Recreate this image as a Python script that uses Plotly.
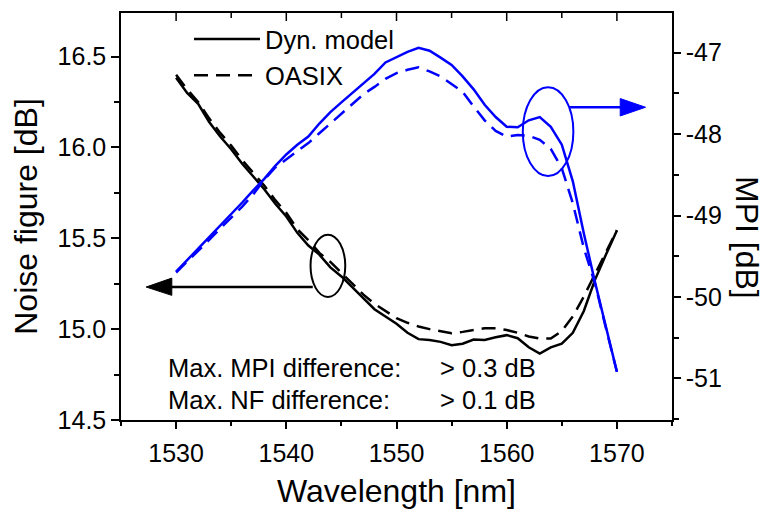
import plotly.graph_objects as go

# ---------------- data ----------------
wavelength = list(range(1530, 1571))

nf_dyn = [16.384, 16.30, 16.24, 16.14, 16.06, 15.99, 15.91, 15.84, 15.77, 15.69,
          15.62, 15.53, 15.46, 15.41, 15.34, 15.29, 15.23, 15.17, 15.11, 15.07,
          15.03, 14.98, 14.945, 14.94, 14.93, 14.912, 14.92, 14.943, 14.94, 14.955,
          14.967, 14.95, 14.90, 14.866, 14.90, 14.92, 14.98, 15.10, 15.27, 15.41,
          15.543]

nf_oasix = [16.40, 16.32, 16.25, 16.16, 16.08, 16.01, 15.93, 15.86, 15.79, 15.71,
            15.64, 15.55, 15.49, 15.42, 15.37, 15.31, 15.25, 15.19, 15.14, 15.10,
            15.06, 15.035, 15.015, 15.00, 14.99, 14.977, 14.985, 14.995, 15.005, 15.005,
            14.995, 14.98, 14.96, 14.948, 14.948, 14.99, 15.07, 15.18, 15.30, 15.42,
            15.545]

mpi_dyn = [-49.69, -49.55, -49.40, -49.26, -49.12, -48.99, -48.84, -48.69, -48.55, -48.39,
           -48.25, -48.13, -48.03, -47.87, -47.73, -47.61, -47.49, -47.37, -47.26, -47.12,
           -47.05, -46.99, -46.94, -46.975, -47.06, -47.15, -47.29, -47.45, -47.64, -47.79,
           -47.91, -47.915, -47.83, -47.79, -47.91, -48.13, -48.58, -49.22, -49.81, -50.37,
           -50.92]

mpi_oasix = [-49.70, -49.57, -49.43, -49.30, -49.16, -49.03, -48.89, -48.74, -48.56, -48.41,
             -48.31, -48.22, -48.11, -47.99, -47.87, -47.74, -47.62, -47.51, -47.42, -47.32,
             -47.25, -47.21, -47.18, -47.23, -47.29, -47.38, -47.48, -47.66, -47.83, -47.96,
             -48.03, -48.01, -48.02, -48.07, -48.18, -48.42, -48.85, -49.40, -49.83, -50.38,
             -50.92]

series_names = ["Dyn. model", "OASIX"]

x_tickvals = [1530, 1540, 1550, 1560, 1570]
x_minor_tickvals = [1535, 1545, 1555, 1565]
nf_tickvals = [14.5, 15.0, 15.5, 16.0, 16.5]
nf_ticktext = ["14.5", "15.0", "15.5", "16.0", "16.5"]
mpi_tickvals = [-51, -50, -49, -48, -47]
mpi_ticktext = ["-51", "-50", "-49", "-48", "-47"]

notes_left = ["Max. MPI difference:", "Max. NF difference:"]
notes_right = ["> 0.3 dB", "> 0.1 dB"]

# ---------------- style ----------------
FONT = "Arial, Liberation Sans, sans-serif"
BLACK = "#000000"
BLUE = "#0000ff"
LW = 2.5
DASH = "14px,8px"

OFF = 8                      # page body margin of the html page
W, H = 768 - OFF, 509 - OFF
PLOT_L, PLOT_R, PLOT_T, PLOT_B = 121, 672, 13, 420   # plot area in window pixels
L, T = PLOT_L - OFF, PLOT_T - OFF
R, B = W - (PLOT_R - OFF), H - (PLOT_B - OFF)
PW, PH = PLOT_R - PLOT_L, PLOT_B - PLOT_T
X_RANGE = [1525, 1575]


def px_x(p):
    return (p - PLOT_L) / PW


def px_y(p):
    return (PLOT_B - p) / PH


fig = go.Figure()

fig.add_trace(go.Scatter(x=wavelength, y=nf_dyn, mode="lines", name=series_names[0],
                         line=dict(color=BLACK, width=LW), xaxis="x", yaxis="y"))
fig.add_trace(go.Scatter(x=wavelength, y=nf_oasix, mode="lines", name=series_names[1],
                         line=dict(color=BLACK, width=LW, dash=DASH), xaxis="x", yaxis="y"))
fig.add_trace(go.Scatter(x=wavelength, y=mpi_dyn, mode="lines", showlegend=False,
                         line=dict(color=BLUE, width=LW), xaxis="x", yaxis="y2"))
fig.add_trace(go.Scatter(x=wavelength, y=mpi_oasix, mode="lines", showlegend=False,
                         line=dict(color=BLUE, width=LW, dash=DASH), xaxis="x", yaxis="y2"))

axis_common = dict(showgrid=False, zeroline=False, linecolor=BLACK, linewidth=1.5,
                   tickcolor=BLACK, tickwidth=1.5, automargin=False,
                   tickfont=dict(family=FONT, size=25, color=BLACK))

fig.update_layout(
    width=W, height=H,
    margin=dict(l=L, r=R, t=T, b=B, autoexpand=False),
    paper_bgcolor="white", plot_bgcolor="white",
    font=dict(family=FONT, color=BLACK),
    xaxis=dict(range=X_RANGE, tickvals=x_tickvals, ticks="outside", ticklen=7,
               showline=True, mirror=True, ticklabelstandoff=3,
               minor=dict(dtick=5, tick0=1525, ticks="outside", ticklen=4,
                          tickcolor=BLACK, tickwidth=1.5),
               title=dict(text="Wavelength [nm]", font=dict(family=FONT, size=32, color=BLACK),
                          standoff=16),
               **axis_common),
    yaxis=dict(range=[14.5, 16.74], tickvals=nf_tickvals, ticktext=nf_ticktext,
               ticks="outside", ticklen=8, showline=True,
               minor=dict(dtick=0.25, tick0=14.5, ticks="outside", ticklen=5,
                          tickcolor=BLACK, tickwidth=1.5),
               title=dict(text="Noise figure [dB]", font=dict(family=FONT, size=32, color=BLACK),
                          standoff=10),
               **axis_common),
    yaxis2=dict(range=[-51.512, -46.512], overlaying="y", side="right", anchor="x",
                tickvals=mpi_tickvals, ticktext=mpi_ticktext,
                ticks="outside", ticklen=7, showline=True,
                minor=dict(dtick=0.5, tick0=-51.5, ticks="outside", ticklen=5,
                           tickcolor=BLACK, tickwidth=1.5),
                **axis_common),
    legend=dict(x=px_x(189), y=px_y(16), xanchor="left", yanchor="top",
                bgcolor="rgba(0,0,0,0)", itemwidth=66,
                font=dict(family=FONT, size=25.5, color=BLACK)),
    showlegend=True,
)

# inward tick marks on the top frame edge, at the x tick values
for vals, ln in ((x_tickvals, 8), (x_minor_tickvals, 5)):
    for v in vals:
        fig.add_shape(type="line", xref="x", yref="paper", x0=v, x1=v,
                      y0=1, y1=1 - ln / PH, layer="above",
                      line=dict(color=BLACK, width=1.5))

# right axis title, rotated clockwise as in the reference
fig.add_annotation(text="MPI [dB]", xref="paper", yref="paper", x=px_x(747), y=px_y(237),
                   xanchor="center", yanchor="middle",
                   showarrow=False, textangle=90,
                   font=dict(family=FONT, size=32, color=BLACK))

# text notes
for i, (a, b) in enumerate(zip(notes_left, notes_right)):
    yp = px_y(368 + 32 * i)
    fig.add_annotation(text=a, xref="paper", yref="paper", x=px_x(166), y=yp,
                       xanchor="left", yanchor="middle", showarrow=False,
                       font=dict(family=FONT, size=25.5, color=BLACK))
    fig.add_annotation(text=b, xref="paper", yref="paper", x=px_x(438), y=yp,
                       xanchor="left", yanchor="middle", showarrow=False,
                       font=dict(family=FONT, size=25.5, color=BLACK))

# black ellipse + arrow pointing to the left (NF) axis
fig.add_shape(type="circle", xref="x", yref="y", x0=1542.2, x1=1545.35, y0=15.177, y1=15.52,
              line=dict(color=BLACK, width=2))
fig.add_shape(type="line", xref="x", yref="y", x0=1542.4, x1=1529.4, y0=15.232, y1=15.232,
              line=dict(color=BLACK, width=2.5))
fig.add_shape(type="path", xref="x", yref="y",
              path="M 1529.61,15.281 L 1527.28,15.232 L 1529.61,15.186 Z",
              fillcolor=BLACK, line=dict(color=BLACK, width=1))

# blue ellipse + arrow pointing to the right (MPI) axis
fig.add_shape(type="circle", xref="x", yref="y2", x0=1561.46, x1=1566.05, y0=-48.515, y1=-47.425,
              line=dict(color=BLUE, width=2))
fig.add_shape(type="line", xref="x", yref="y2", x0=1565.75, x1=1570.5, y0=-47.67, y1=-47.67,
              line=dict(color=BLUE, width=2.5))
fig.add_shape(type="path", xref="x", yref="y2",
              path="M 1570.3,-47.563 L 1572.6,-47.67 L 1570.3,-47.777 Z",
              fillcolor=BLUE, line=dict(color=BLUE, width=1))

fig.write_html("out.html")
